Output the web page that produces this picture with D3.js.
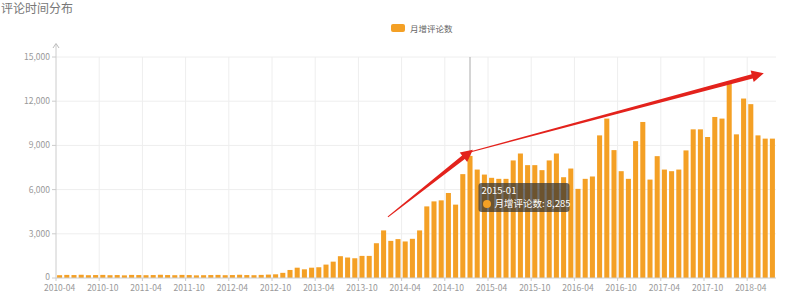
<!DOCTYPE html>
<html>
<head>
<meta charset="utf-8">
<script src="https://cdn.jsdelivr.net/npm/d3@7"></script>
<style>
  body { margin: 0; background: #fff; }
  svg { display: block; font-family: "Noto Sans CJK SC", "Noto Sans", sans-serif; }
</style>
</head>
<body>
<svg id="chart"></svg>
<script>
const width = 800;
const height = 298;

const margin = {top: 57, right: 24, bottom: 20, left: 56};

// Monthly new comments, 2010-04 .. 2018-07
const startMonth = new Date(2010, 3, 1);
const monthCount = 100;
const monthlyComments = [
    190, 210, 200, 220, 190, 200, 210, 190, 200, 180,
    210, 200, 190, 200, 220, 200, 190, 210, 200, 180,
    190, 200, 210, 190, 200, 220, 200, 190, 210, 230,
    250, 350, 545, 700, 590, 700, 730, 910, 1110, 1480,
    1390, 1340, 1500, 1500, 2360, 3230, 2520, 2640, 2480, 2660,
    3230, 4860, 5200, 5270, 5770, 4980, 7050, 8285, 7360, 7020,
    6800, 6730, 6730, 7980, 8450, 7660, 7660, 7320, 7980, 8450,
    6840, 7430, 6050, 6730, 6890, 9680, 10820, 8680, 7250, 6730,
    9290, 10590, 6680, 8270, 7360, 7250, 7360, 8660, 10090, 10090,
    9570, 10930, 10820, 13270, 9750, 12180, 11800, 9680, 9460, 9460
];

const yTicks = [0, 3000, 6000, 9000, 12000, 15000];
const labelEvery = 6;

const seriesName = "月增评论数";
const chartTitle = "评论时间分布";
const hoverMonth = "2015-01";

// hand drawn trend arrows, as [month index, value] pairs
const trendArrows = [
    {from: [45.6, 4150], to: [57.4, 8700]},
    {from: [57.0, 8550], to: [97.8, 13900]}
];

const barColor = "#f4a025";
const gridColor = "#eeeeee";
const axisColor = "#cccccc";
const textColor = "#999999";

const fmtMonth = d3.timeFormat("%Y-%m");
const months = d3.timeMonth.range(startMonth, d3.timeMonth.offset(startMonth, monthCount)).map(fmtMonth);

let svg = d3.select("#chart")
    .attr("width", width)
    .attr("height", height);

let x = d3.scaleBand()
    .domain(months)
    .range([margin.left, width - margin.right])
    .paddingInner(0.3)
    .paddingOuter(0.15);

let y = d3.scaleLinear()
    .domain([0, 15000])
    .range([height - margin.bottom, margin.top]);

// left edge of a category slot
let slotLeft = (m) => x(m) - (x.step() - x.bandwidth()) / 2;
let xIndex = (i) => margin.left + x.step() * (i + 0.5);

// Title
svg.append("text")
    .attr("x", 1)
    .attr("y", 13)
    .style("font-size", "12px")
    .style("fill", "#777")
    .text(chartTitle);

// Legend
svg.append("rect")
    .attr("x", 391).attr("y", 24)
    .attr("width", 14).attr("height", 8)
    .attr("rx", 2)
    .style("fill", barColor);
svg.append("text")
    .attr("x", 410).attr("y", 31.5)
    .style("font-size", "8.5px")
    .style("fill", "#666")
    .text(seriesName);

// Horizontal grid
svg.append("g")
    .selectAll("line")
    .data(yTicks.slice(1))
    .join("line")
    .attr("x1", margin.left).attr("x2", width - margin.right)
    .attr("y1", d => y(d)).attr("y2", d => y(d))
    .style("stroke", gridColor);

// Vertical grid at label slots
let labelMonths = months.filter((m, i) => i % labelEvery === 0);
svg.append("g")
    .selectAll("line")
    .data(labelMonths.slice(1))
    .join("line")
    .attr("x1", d => slotLeft(d)).attr("x2", d => slotLeft(d))
    .attr("y1", y(0)).attr("y2", y(15000))
    .style("stroke", gridColor);

// Axis pointer for the hovered month
svg.append("line")
    .attr("x1", x(hoverMonth) + x.bandwidth() / 2)
    .attr("x2", x(hoverMonth) + x.bandwidth() / 2)
    .attr("y1", y(15000)).attr("y2", y(0))
    .style("stroke", "#aaa");

// Bars
svg.append("g")
    .selectAll("rect")
    .data(monthlyComments)
    .join("rect")
    .attr("x", (d, i) => x(months[i]))
    .attr("y", d => y(d))
    .attr("width", x.bandwidth())
    .attr("height", d => y(0) - y(d))
    .style("fill", barColor);

// Y axis
let yAxis = svg.append("g");
yAxis.append("line")
    .attr("x1", margin.left).attr("x2", margin.left)
    .attr("y1", y(0)).attr("y2", 44)
    .style("stroke", axisColor);
yAxis.append("path")
    .attr("d", `M${margin.left - 3},48 L${margin.left},43.5 L${margin.left + 3},48`)
    .style("fill", "none")
    .style("stroke", "#bbb");
yAxis.selectAll(".tick")
    .data(yTicks)
    .join("line")
    .attr("x1", margin.left - 4).attr("x2", margin.left)
    .attr("y1", d => y(d)).attr("y2", d => y(d))
    .style("stroke", axisColor);
yAxis.selectAll("text")
    .data(yTicks)
    .join("text")
    .attr("x", margin.left - 6)
    .attr("y", d => y(d) + (d === 0 ? 1.5 : 3))
    .attr("text-anchor", "end")
    .style("font-size", "8.5px")
    .style("fill", textColor)
    .text(d => d3.format(",")(d));

// X axis
let xAxis = svg.append("g");
xAxis.append("line")
    .attr("x1", margin.left).attr("x2", width - margin.right)
    .attr("y1", y(0)).attr("y2", y(0))
    .style("stroke", axisColor);
xAxis.selectAll("line.tick")
    .data(labelMonths)
    .join("line")
    .attr("class", "tick")
    .attr("x1", d => slotLeft(d)).attr("x2", d => slotLeft(d))
    .attr("y1", y(0)).attr("y2", y(0) + 3)
    .style("stroke", axisColor);
xAxis.selectAll("text")
    .data(labelMonths)
    .join("text")
    .attr("x", d => x(d) + x.bandwidth() / 2)
    .attr("y", y(0) + 13)
    .attr("text-anchor", "middle")
    .style("font-size", "8.5px")
    .style("fill", textColor)
    .text(d => d);

// Red trend arrows (tapered shaft + head)
function drawArrow(a)
{
    let x0 = xIndex(a.from[0]), y0 = y(a.from[1]);
    let x1 = xIndex(a.to[0]), y1 = y(a.to[1]);
    let len = Math.hypot(x1 - x0, y1 - y0);
    let ux = (x1 - x0) / len, uy = (y1 - y0) / len;
    let nx = -uy, ny = ux;
    let headLen = 12, headW = 6, w0 = 0.5, w1 = 2.2;
    let bx = x1 - ux * headLen, by = y1 - uy * headLen;
    let pts = [
        [x0 + nx * w0, y0 + ny * w0],
        [bx + nx * w1, by + ny * w1],
        [bx + nx * headW, by + ny * headW],
        [x1, y1],
        [bx - nx * headW, by - ny * headW],
        [bx - nx * w1, by - ny * w1],
        [x0 - nx * w0, y0 - ny * w0]
    ];
    svg.append("path")
        .attr("d", "M" + pts.map(p => p.join(",")).join("L") + "Z")
        .style("fill", "#e3221c");
}
trendArrows.forEach(drawArrow);

// Tooltip
let hi = months.indexOf(hoverMonth);
let tx = x(hoverMonth) + 11;
let ty = y(monthlyComments[hi]) + 27;
let tip = svg.append("g").attr("transform", `translate(${tx},${ty})`);
tip.append("rect")
    .attr("width", 91).attr("height", 29)
    .attr("rx", 3)
    .style("fill", "rgba(50,50,50,0.7)");
tip.append("text")
    .attr("x", 3).attr("y", 11.5)
    .style("font-size", "9.5px")
    .style("fill", "#fff")
    .text(hoverMonth);
tip.append("circle")
    .attr("cx", 8.5).attr("cy", 21)
    .attr("r", 4)
    .style("fill", barColor);
tip.append("text")
    .attr("x", 16).attr("y", 24.5)
    .style("font-size", "9.5px")
    .style("fill", "#fff")
    .text(seriesName + ": " + d3.format(",")(monthlyComments[hi]));
</script>
</body>
</html>
